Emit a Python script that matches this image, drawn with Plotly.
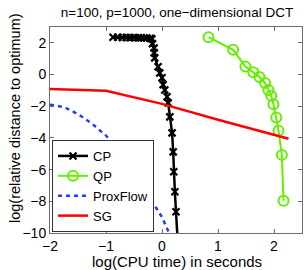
import plotly.graph_objects as go

# ---- data (log10 CPU time, log10 relative distance to optimum) ----
cp_x = [-0.875, -0.79, -0.71, -0.64, -0.57, -0.50, -0.43, -0.375, -0.32, -0.27, -0.21, -0.18,
        -0.17, -0.14, -0.14, -0.13, -0.07, -0.04, 0.00, 0.02, 0.05, 0.09, 0.11,
        0.14, 0.18, 0.20, 0.21, 0.23, 0.25, 0.28]
cp_y = [2.35, 2.35, 2.34, 2.34, 2.33, 2.33, 2.32, 2.32, 2.31, 2.30, 2.29, 2.25,
        1.95, 1.68, 1.37, 1.05, 0.49, 0.10, -0.20, -0.65, -0.97, -1.40, -1.79,
        -2.67, -3.68, -4.88, -6.14, -7.40, -8.66, -10.5]

qp_x = [0.83, 1.27, 1.49, 1.63, 1.74, 1.84, 1.90, 1.95, 1.99, 2.04, 2.08, 2.14, 2.17]
qp_y = [2.36, 1.56, 0.50, 0.15, -0.16, -0.54, -0.97, -1.34, -1.87, -2.71, -3.55, -5.07, -7.97]

pf_x = [-2.0, -1.75, -1.5, -1.25, -1.0, -0.75, -0.5, -0.25, 0.0, 0.15]
pf_y = [-1.9, -2.05, -2.5, -3.1, -3.85, -4.9, -6.2, -7.6, -9.0, -10.2]

sg_x = [-2.0, -1.0, 0.0, 1.0, 2.26]
sg_y = [-0.92, -1.03, -1.85, -2.85, -4.05]

x_ticks = [-2, -1, 0, 1, 2]
y_ticks = [2, 0, -2, -4, -6, -8, -10]

title_text = "n=100, p=1000, one\u2212dimensional DCT"
x_title = "log(CPU time) in seconds"
y_title = "log(relative distance to optimum)"

FONT = "Liberation Sans, Arial, sans-serif"
AX = "#6e6e6e"
W, H = 308, 270
L, R, T, B = 50, 6, 27, 37
PW, PH = W - L - R, H - T - B


def lab(v):
    return "\u2212" + str(-v) if v < 0 else str(v)


fig = go.Figure()
fig.add_trace(go.Scatter(x=cp_x, y=cp_y, name="CP", mode="lines+markers",
                         line=dict(color="black", width=2.5),
                         marker=dict(symbol="x-thin", size=7, color="black",
                                     line=dict(color="black", width=2.2))))
fig.add_trace(go.Scatter(x=qp_x, y=qp_y, name="QP", mode="lines+markers",
                         line=dict(color="#66ee00", width=2),
                         marker=dict(symbol="circle-open", size=10, color="#66ee00",
                                     line=dict(color="#66ee00", width=2))))
fig.add_trace(go.Scatter(x=pf_x, y=pf_y, name="ProxFlow", mode="lines",
                         line=dict(color="#1f3cff", width=2.5, dash="4px,4px")))
fig.add_trace(go.Scatter(x=sg_x, y=sg_y, name="SG", mode="lines",
                         line=dict(color="#ff0000", width=2.5)))

axis_common = dict(showgrid=False, zeroline=False, showline=True, linecolor=AX,
                   linewidth=1, mirror="allticks", ticks="inside", ticklen=4,
                   tickcolor=AX, automargin=False,
                   tickfont=dict(size=14, color="black", family=FONT))

fig.update_layout(
    width=W, height=H,
    margin=dict(l=L, r=R, t=T, b=B, autoexpand=False),
    paper_bgcolor="white", plot_bgcolor="white",
    font=dict(family=FONT, color="black"),
    title=dict(text=title_text, x=177 / W, xanchor="center", y=1 - 12 / H,
               yanchor="middle", font=dict(size=13.5, family=FONT)),
    xaxis=dict(range=[-2, 2.5], tickvals=x_ticks, ticktext=[lab(v) for v in x_ticks],
               **axis_common),
    yaxis=dict(range=[-10, 3], tickvals=y_ticks, ticktext=[lab(v) for v in y_ticks],
               **axis_common),
    legend=dict(x=0.008, y=0.005, xanchor="left", yanchor="bottom",
                bgcolor="white", bordercolor="#333", borderwidth=1,
                font=dict(size=13, family=FONT), tracegroupgap=0,
                itemwidth=30),
    showlegend=True,
    annotations=[
        dict(text=x_title, xref="paper", yref="paper", x=(177 - L) / PW,
             y=-(261 - (T + PH)) / PH, xanchor="center", yanchor="middle",
             showarrow=False, font=dict(size=15, family=FONT)),
        dict(text=y_title, xref="paper", yref="paper", x=(15 - L) / PW,
             y=(T + PH - 118) / PH, xanchor="center", yanchor="middle",
             textangle=-90, showarrow=False, font=dict(size=14.5, family=FONT)),
    ],
)

fig.write_html("out.html", config={"displayModeBar": False},
               post_script="document.body.style.margin='0px';")
